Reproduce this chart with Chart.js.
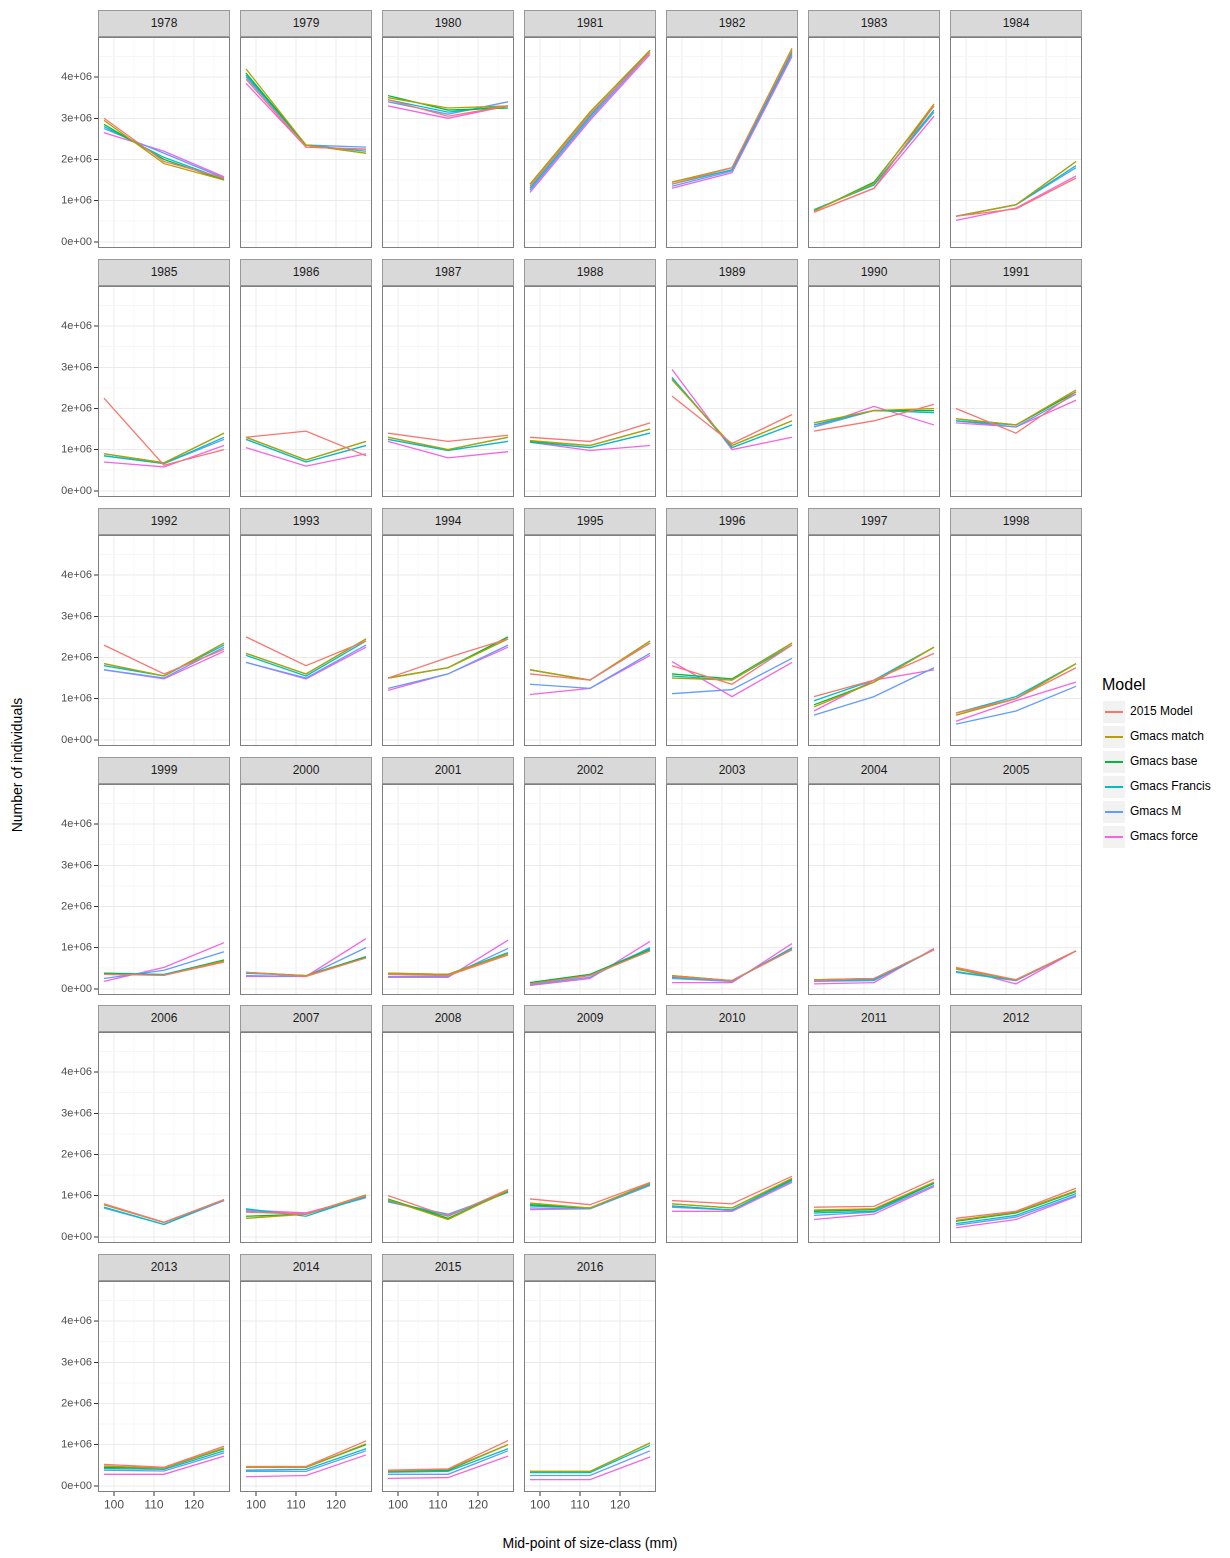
<!DOCTYPE html>
<html>
<head>
<meta charset="utf-8">
<script src="https://cdn.jsdelivr.net/npm/chart.js@4"></script>
<style>
  body { margin: 0; background: #fff; font-family: "Liberation Sans", Arial, sans-serif; }
  #wrap { position: relative; width: 1230px; height: 1558px; }
  .strip { position: absolute; background: #d9d9d9; border: 1px solid #999; box-sizing: border-box;
           font-size: 12px; color: #1a1a1a; text-align: center; line-height: 25px; }
  .frame { position: absolute; border: 1px solid #7f7f7f; box-sizing: border-box; pointer-events: none; }
  canvas { position: absolute; }
  .title { position: absolute; font-size: 14px; color: #000; white-space: nowrap; }
</style>
</head>
<body>
<div id="wrap"></div>
<script>
// data, values in millions of individuals
const years = [1978,1979,1980,1981,1982,1983,1984,1985,1986,1987,1988,1989,1990,1991,1992,1993,1994,1995,1996,1997,1998,1999,2000,2001,2002,2003,2004,2005,2006,2007,2008,2009,2010,2011,2012,2013,2014,2015,2016];
const sizeClasses = [97.5, 112.5, 127.5];
const xTickLabels = ["100", "110", "120"];
const yTickLabels = ["0e+00", "1e+06", "2e+06", "3e+06", "4e+06"];
const modelNames = ["2015 Model", "Gmacs match", "Gmacs base", "Gmacs Francis", "Gmacs M", "Gmacs force"];
const modelColors = ["#F8766D", "#B79F00", "#00BA38", "#00BFC4", "#619CFF", "#F564E3"];

const model2015 = [
  [3.0,1.95,1.55],[3.95,2.3,2.25],[3.45,3.05,3.3],[1.35,3.1,4.6],[1.4,1.8,4.65],[0.72,1.3,3.3],[0.62,0.8,1.55],
  [2.25,0.62,1.0],[1.3,1.45,0.85],[1.4,1.2,1.35],[1.3,1.2,1.65],[2.3,1.15,1.85],[1.45,1.7,2.1],[2.0,1.4,2.4],
  [2.3,1.6,2.2],[2.5,1.8,2.4],[1.5,2.0,2.45],[1.6,1.45,2.35],[1.8,1.35,2.3],[1.05,1.45,2.1],[0.65,1.0,1.75],
  [0.35,0.33,0.65],[0.4,0.3,0.75],[0.35,0.32,0.82],[0.12,0.32,0.92],[0.3,0.2,0.95],[0.2,0.25,0.95],[0.52,0.22,0.92],
  [0.8,0.35,0.9],[0.6,0.55,1.0],[1.0,0.5,1.15],[0.92,0.78,1.32],[0.88,0.8,1.47],[0.72,0.74,1.4],[0.45,0.62,1.18],
  [0.52,0.45,0.96],[0.47,0.47,1.09],[0.38,0.41,1.1],null
];
const gmacsMatch = [
  [2.95,1.9,1.5],[4.2,2.35,2.15],[3.5,3.25,3.3],[1.4,3.15,4.65],[1.45,1.8,4.7],[0.75,1.42,3.35],[0.62,0.9,1.95],
  [0.9,0.68,1.4],[1.3,0.75,1.2],[1.3,1.0,1.3],[1.22,1.1,1.5],[2.7,1.1,1.7],[1.65,1.95,2.0],[1.75,1.6,2.45],
  [1.85,1.55,2.35],[2.1,1.6,2.45],[1.5,1.75,2.45],[1.7,1.45,2.4],[1.5,1.45,2.35],[0.8,1.4,2.25],[0.6,1.0,1.85],
  [0.35,0.33,0.68],[0.4,0.32,0.75],[0.38,0.35,0.85],[0.12,0.33,0.92],[0.32,0.2,0.95],[0.22,0.25,0.95],[0.48,0.22,0.92],
  [0.78,0.35,0.9],[0.45,0.55,1.02],[0.9,0.42,1.12],[0.82,0.7,1.3],[0.8,0.7,1.42],[0.65,0.68,1.33],[0.4,0.6,1.12],
  [0.48,0.43,0.92],[0.45,0.45,1.02],[0.36,0.4,1.0],[0.35,0.35,1.04]
];
const gmacsBase = [
  [2.85,2.0,1.5],[4.1,2.35,2.15],[3.55,3.2,3.25],[1.4,3.15,4.65],[1.45,1.8,4.65],[0.75,1.45,3.3],[0.62,0.9,1.95],
  [0.9,0.68,1.4],[1.3,0.75,1.2],[1.3,1.0,1.3],[1.2,1.1,1.5],[2.7,1.1,1.7],[1.65,1.95,1.95],[1.75,1.6,2.4],
  [1.85,1.55,2.35],[2.1,1.6,2.45],[1.5,1.75,2.5],[1.7,1.45,2.4],[1.6,1.48,2.35],[0.85,1.4,2.25],[0.6,1.0,1.85],
  [0.38,0.33,0.7],[0.4,0.32,0.78],[0.38,0.35,0.85],[0.15,0.35,0.95],[0.32,0.2,0.95],[0.22,0.25,0.95],[0.48,0.22,0.92],
  [0.78,0.35,0.9],[0.5,0.55,1.0],[0.92,0.45,1.1],[0.78,0.7,1.3],[0.8,0.7,1.4],[0.62,0.66,1.3],[0.38,0.58,1.1],
  [0.45,0.43,0.9],[0.45,0.45,1.0],[0.35,0.38,1.0],[0.35,0.35,1.04]
];
const gmacsFrancis = [
  [2.8,2.05,1.52],[4.05,2.35,2.2],[3.45,3.15,3.3],[1.3,3.05,4.65],[1.4,1.75,4.6],[0.78,1.38,3.2],[0.62,0.9,1.85],
  [0.85,0.66,1.3],[1.25,0.7,1.1],[1.25,0.98,1.2],[1.18,1.05,1.4],[2.75,1.05,1.6],[1.6,1.95,1.9],[1.7,1.6,2.4],
  [1.8,1.55,2.3],[2.05,1.55,2.4],[1.5,1.75,2.45],[1.7,1.45,2.35],[1.55,1.45,2.3],[0.95,1.45,2.25],[0.65,1.05,1.85],
  [0.38,0.35,0.7],[0.38,0.32,0.78],[0.35,0.35,0.88],[0.15,0.35,0.98],[0.28,0.2,0.98],[0.2,0.22,0.95],[0.42,0.2,0.92],
  [0.72,0.3,0.9],[0.68,0.5,0.98],[0.88,0.5,1.1],[0.75,0.7,1.28],[0.75,0.65,1.38],[0.58,0.62,1.3],[0.32,0.52,1.05],
  [0.42,0.4,0.85],[0.38,0.4,0.9],[0.33,0.35,0.9],[0.32,0.32,0.98]
];
const gmacsM = [
  [2.75,2.15,1.55],[4.0,2.35,2.3],[3.4,3.1,3.4],[1.25,3.0,4.6],[1.35,1.72,4.55],[0.78,1.38,3.15],[0.62,0.9,1.8],
  [0.85,0.66,1.25],[1.25,0.7,1.1],[1.25,0.98,1.2],[1.18,1.05,1.4],[2.75,1.05,1.6],[1.55,1.95,1.9],[1.7,1.55,2.35],
  [1.7,1.5,2.25],[1.88,1.5,2.3],[1.25,1.6,2.3],[1.35,1.25,2.1],[1.12,1.22,1.98],[0.6,1.05,1.75],[0.38,0.7,1.3],
  [0.25,0.45,0.9],[0.32,0.3,1.0],[0.3,0.3,0.98],[0.1,0.28,1.0],[0.25,0.18,1.0],[0.18,0.2,0.95],[0.4,0.2,0.92],
  [0.7,0.3,0.88],[0.62,0.55,0.95],[0.85,0.55,1.08],[0.7,0.68,1.25],[0.72,0.65,1.35],[0.52,0.6,1.25],[0.28,0.48,1.0],
  [0.38,0.36,0.8],[0.35,0.35,0.85],[0.28,0.28,0.85],[0.25,0.25,0.85]
];
const gmacsForce = [
  [2.65,2.2,1.58],[3.85,2.3,2.25],[3.3,3.0,3.3],[1.2,2.95,4.55],[1.3,1.68,4.5],[0.72,1.3,3.05],[0.52,0.82,1.6],
  [0.7,0.58,1.1],[1.05,0.6,0.9],[1.2,0.8,0.95],[1.18,0.98,1.1],[2.95,1.0,1.3],[1.55,2.05,1.6],[1.65,1.55,2.2],
  [1.7,1.48,2.15],[1.88,1.48,2.25],[1.2,1.6,2.25],[1.1,1.25,2.05],[1.9,1.05,1.88],[0.7,1.45,1.7],[0.45,0.95,1.4],
  [0.18,0.52,1.12],[0.3,0.3,1.22],[0.28,0.28,1.18],[0.08,0.25,1.15],[0.15,0.15,1.1],[0.12,0.15,0.98],[0.5,0.12,0.92],
  [0.8,0.35,0.9],[0.65,0.58,0.97],[0.85,0.52,1.12],[0.66,0.68,1.25],[0.62,0.62,1.32],[0.42,0.55,1.22],[0.22,0.42,0.98],
  [0.28,0.28,0.72],[0.22,0.25,0.75],[0.18,0.2,0.72],[0.15,0.15,0.7]
];
const modelSeries = [model2015, gmacsMatch, gmacsBase, gmacsFrancis, gmacsM, gmacsForce];

// layout of the facet grid
const colLeft = [98, 240, 382, 524, 666, 808, 950];
const rowTop = [10, 259, 508, 757, 1005, 1254];
const panelW = 132, stripH = 27, plotH = 211;
const axisW = 52, axisH = 22;
const topPad = 7; // room Chart.js keeps above the top y label
const nRows = 6;

const wrap = document.getElementById("wrap");

function addDiv(cls, left, top, w, h, text) {
  const d = document.createElement("div");
  d.className = cls;
  Object.assign(d.style, { left: left + "px", top: top + "px", width: w + "px", height: h + "px" });
  if (text !== undefined) d.textContent = text;
  wrap.appendChild(d);
  return d;
}

years.forEach((year, i) => {
  const col = i % 7, row = Math.floor(i / 7);
  const left = colLeft[col], top = rowTop[row];
  const isBottom = row === nRows - 1;
  const isLeft = col === 0;

  addDiv("strip", left, top, panelW, stripH, String(year));

  const canvas = document.createElement("canvas");
  Object.assign(canvas.style, {
    left: (left - axisW) + "px", top: (top + stripH - topPad) + "px",
    width: (panelW + axisW) + "px", height: (plotH + axisH + topPad) + "px",
  });
  wrap.appendChild(canvas);

  const datasets = modelSeries.map((series, m) => ({
    label: modelNames[m],
    data: series[i] ? series[i].map((v, k) => ({ x: sizeClasses[k], y: v * 1e6 })) : [],
    borderColor: modelColors[m],
    borderWidth: 1.3,
    pointRadius: 0,
    fill: false,
  }));

  new Chart(canvas, {
    type: "line",
    data: { datasets },
    options: {
      responsive: false,
      animation: false,
      devicePixelRatio: 2,
      layout: { padding: 0 },
      plugins: { legend: { display: false }, tooltip: { enabled: false } },
      scales: {
        x: {
          type: "linear",
          min: 96,
          max: 129,
          afterBuildTicks: (s) => { s.ticks = [100, 105, 110, 115, 120, 125].map((v) => ({ value: v })); },
          afterFit: (s) => { s.height = axisH; },
          grid: {
            color: (c) => (c.tick && c.tick.value % 10 === 0 ? "#ebebeb" : "#f6f6f6"),
            tickColor: (c) => (isBottom && c.tick && c.tick.value % 10 === 0 ? "#333" : "rgba(0,0,0,0)"),
            tickLength: 4,
          },
          border: { display: false },
          ticks: {
            autoSkip: false,
            maxRotation: 0,
            padding: 2,
            color: isBottom ? "#4d4d4d" : "rgba(0,0,0,0)",
            font: { size: 12, family: "Liberation Sans" },
            callback: (v) => (v % 10 === 0 ? xTickLabels[(v - 100) / 10] : ""),
          },
        },
        y: {
          min: -0.15e6,
          max: 4.935e6,
          afterBuildTicks: (s) => {
            s.ticks = [0, 0.5, 1, 1.5, 2, 2.5, 3, 3.5, 4, 4.5].map((v) => ({ value: v * 1e6 }));
          },
          afterFit: (s) => { s.width = axisW; },
          grid: {
            color: (c) => (c.tick && c.tick.value % 1e6 === 0 ? "#ebebeb" : "#f6f6f6"),
            tickColor: (c) => (isLeft && c.tick && c.tick.value % 1e6 === 0 ? "#333" : "rgba(0,0,0,0)"),
            tickLength: 4,
          },
          border: { display: false },
          ticks: {
            autoSkip: false,
            padding: 2,
            color: isLeft ? "#4d4d4d" : "rgba(0,0,0,0)",
            font: { size: 11, family: "Liberation Sans" },
            callback: (v) => (v % 1e6 === 0 ? yTickLabels[v / 1e6] : ""),
          },
        },
      },
    },
  });

  addDiv("frame", left, top + stripH, panelW, plotH);
});

// axis titles
const yTitle = addDiv("title", 18 - 80, 765 - 9, 160, 18, "Number of individuals");
yTitle.style.transform = "rotate(-90deg)";
yTitle.style.textAlign = "center";
const xTitle = addDiv("title", 390, 1535, 400, 18, "Mid-point of size-class (mm)");
xTitle.style.textAlign = "center";

// legend
addDiv("title", 1102, 676, 100, 20, "Model").style.fontSize = "16px";
modelNames.forEach((name, m) => {
  const y = 700 + m * 25;
  const key = addDiv("title", 1102, y, 24, 24);
  Object.assign(key.style, { background: "#f2f2f2", border: "1px solid #fff", boxSizing: "border-box" });
  const line = addDiv("title", 1105, y + 11, 18, 2);
  line.style.background = modelColors[m];
  const lab = addDiv("title", 1130, y + 4, 100, 16, name);
  lab.style.fontSize = "12px";
});
</script>
</body>
</html>
